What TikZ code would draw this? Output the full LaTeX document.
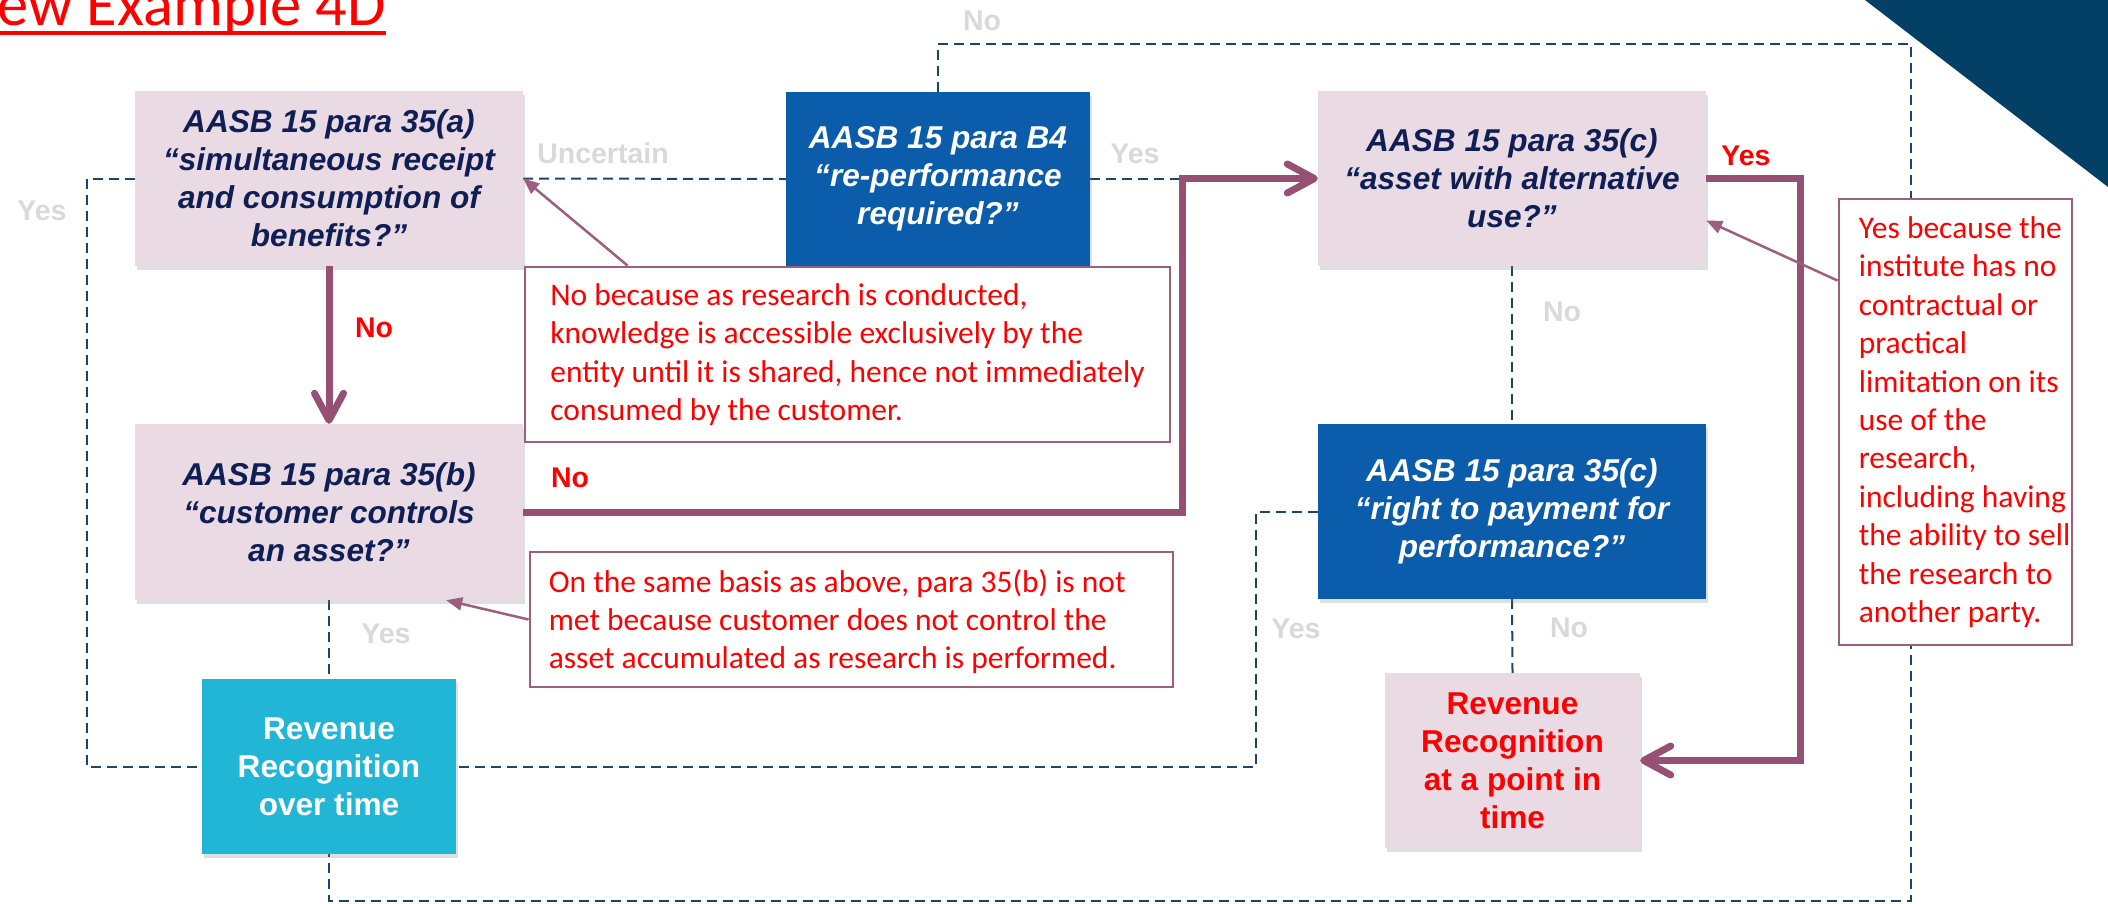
\documentclass[tikz,border=0pt]{standalone}
\usepackage{fontspec}
\newfontfamily\arialfont{Liberation Sans}
\newfontfamily\calfont{Carlito}
\usetikzlibrary{arrows.meta,shadows}

\definecolor{boxpink}{HTML}{E9DAE3}
\definecolor{qnavy}{HTML}{0F1F55}
\definecolor{qblue}{HTML}{0B5CAB}
\definecolor{qcyan}{HTML}{22B6D6}
\definecolor{flowpurple}{HTML}{955073}
\definecolor{notepurple}{HTML}{9C5F80}
\definecolor{dashnavy}{HTML}{1B4569}
\definecolor{lightlabel}{HTML}{D9D9D9}
\definecolor{cornerblue}{HTML}{043F66}
\definecolor{alertred}{HTML}{FF0000}

\pgfdeclarelayer{back}
\pgfsetlayers{back,main}

\tikzset{
  qbox/.style={rectangle, inner sep=0pt, align=center,
    font=\arialfont\bfseries\itshape\fontsize{31.6}{38}\selectfont,
    drop shadow={shadow xshift=2pt, shadow yshift=-4pt, opacity=0.25}},
  pinkq/.style={qbox, fill=boxpink, text=qnavy},
  blueq/.style={qbox, fill=qblue, text=white},
  outcome/.style={qbox, font=\arialfont\bfseries\fontsize{31.6}{38}\selectfont},
  notetext/.style={text=alertred, font=\calfont\fontsize{31.5}{38.4}\selectfont,
    inner sep=0pt, align=left},
  note/.style={notetext, rectangle, draw=notepurple, line width=2.8pt, fill=white},
  flow/.style={draw=flowpurple, line width=7pt,
    -{Straight Barb[length=27pt, width=29pt, round]}},
  dashlink/.style={draw=dashnavy, line width=2pt, dash pattern=on 10pt off 6pt},
  callout/.style={draw=notepurple, line width=2.5pt,
    -{Triangle[length=16pt, width=13pt]}},
  graylabel/.style={text=lightlabel, inner sep=0pt, anchor=base,
    font=\arialfont\bfseries\fontsize{28.5}{34}\selectfont},
  redlabel/.style={graylabel, text=alertred},
}

\begin{document}
\begin{tikzpicture}[x=1pt, y=-1pt]
\useasboundingbox (0,0) rectangle (2108,903);
\clip (0,0) rectangle (2108,903);

% corner decoration
\fill[cornerblue] (1865,0) -- (2108,0) -- (2108,187) -- cycle;

% heading
\node[font=\calfont\fontsize{62.5}{70}\selectfont, text=alertred,
  anchor=base west, inner sep=0pt] (title) at (-3,25) {ew Example 4D};
\draw[alertred, line width=4pt] ([yshift=-8pt]title.base west) -- ([yshift=-8pt]title.base east);

% question boxes
\node[pinkq, minimum width=388pt, minimum height=175pt] (a) at (329,178.5)
  {AASB 15 para 35(a)\\“simultaneous receipt\\and consumption of\\benefits?”};
\node[blueq, minimum width=304pt, minimum height=174pt] (b4) at (938,179)
  {AASB 15 para B4\\“re-performance\\required?”};
\node[pinkq, minimum width=388pt, minimum height=175pt] (c1) at (1512,178.5)
  {AASB 15 para 35(c)\\“asset with alternative\\use?”};
\node[pinkq, minimum width=388pt, minimum height=176pt] (b) at (329,512)
  {AASB 15 para 35(b)\\“customer controls\\an asset?”};
\node[blueq, minimum width=388pt, minimum height=175pt] (c2) at (1512,511.5)
  {AASB 15 para 35(c)\\“right to payment for\\performance?”};

% outcomes
\node[outcome, fill=qcyan, text=white, minimum width=254pt, minimum height=175pt]
  (ot) at (329,766.5) {Revenue\\Recognition\\over time};
\node[outcome, fill=boxpink, text=alertred, minimum width=255pt, minimum height=175pt]
  (pt) at (1512.5,760.5) {Revenue\\Recognition\\at a point in\\time};

% explanatory notes
\node[note, minimum width=645pt, minimum height=175pt] (n1) at (847.5,354.5)
  {No because as research is conducted,\\knowledge is accessible exclusively by the\\entity until it is shared, hence not immediately\\consumed by the customer.};
\node[note, minimum width=643pt, minimum height=135pt] (n2) at (851.5,619.5) {};
\node[notetext, anchor=west] (n2text) at ([xshift=20pt, yshift=-2pt]n2.west)
  {On the same basis as above, para 35(b) is not\\met because customer does not control the\\asset accumulated as research is performed.};
\node[note, minimum width=233pt, minimum height=446pt] (n3) at (1955.5,422) {};
\node[notetext, anchor=west] (n3text) at ([xshift=21pt]n3.west)
  {Yes because the\\institute has no\\contractual or\\practical\\limitation on its\\use of the\\research,\\including having\\the ability to sell\\the research to\\another party.};

% turning points
\coordinate (loopL) at (87,178.5);
\coordinate (yesjoin) at (1182,179);
\coordinate (topR) at (1911,44);
\coordinate (bottomR) at (1911,901);
\coordinate (loopM) at (1256,511.5);
\coordinate (flowturn) at (1182,178.5);
\coordinate (flowturnR) at (1800,760.5);

% dashed alternative paths
\begin{pgfonlayer}{back}
\draw[dashlink] (a.west) -- (loopL) |- (ot.west);
\draw[dashlink] (a.east) -- (b4.west);
\draw[dashlink] (b4.east) -- (yesjoin);
\draw[dashlink] (b4.north) |- (topR) -- (bottomR) -| (ot.south);
\draw[dashlink] (b.south) -- (ot.north);
\draw[dashlink] (c1.south) -- (c2.north);
\draw[dashlink] (c2.west) -- (loopM) |- (ot.east);
\draw[dashlink] (c2.south) -- (pt.north);
\end{pgfonlayer}

% main decision path
\draw[flow] (a.south) -- (b.north);
\draw[flow] (b.east) -| (flowturn) -- (c1.west);
\draw[flow] (c1.east) -| (flowturnR) -- (pt.east);

% note pointers
\draw[callout] ([xshift=104pt]n1.north west) -- (a.east);
\draw[callout] (n2.west) -- ([xshift=-77pt]b.south east);
\draw[callout] ([yshift=-83pt]n3.north west) -- ([yshift=-42pt]c1.east);

% branch labels
\node[graylabel] (lblUnc) at (603,163) {Uncertain};
\node[graylabel] (lblYesL) at (42,220) {Yes};
\node[graylabel] (lblNoTop) at (982,30) {No};
\node[graylabel] (lblYesB4) at (1135,163) {Yes};
\node[redlabel] (lblYesC1) at (1746,165) {Yes};
\node[redlabel] (lblNoA) at (374,337) {No};
\node[redlabel] (lblNoB) at (570,487) {No};
\node[graylabel] (lblNoC1) at (1562,321) {No};
\node[graylabel] (lblYesB) at (386,643) {Yes};
\node[graylabel] (lblYesC2) at (1296,638) {Yes};
\node[graylabel] (lblNoC2) at (1569,637) {No};
\end{tikzpicture}
\end{document}
